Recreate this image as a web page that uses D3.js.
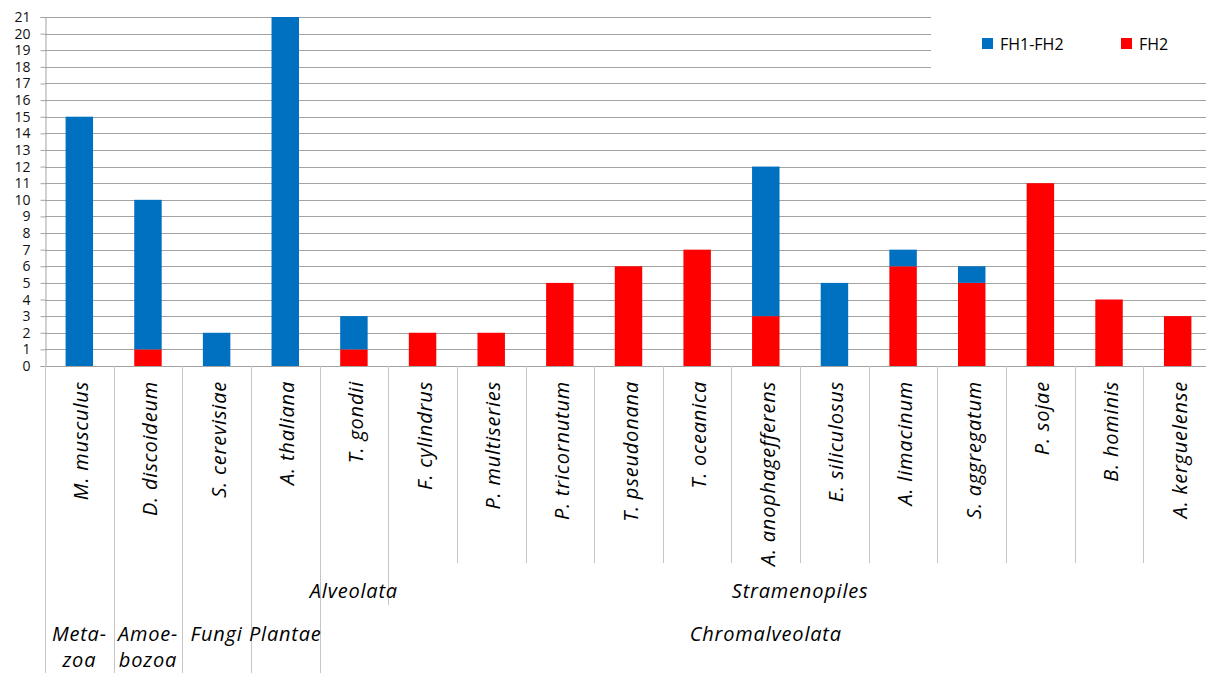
<!DOCTYPE html>
<html>
<head>
<meta charset="utf-8">
<script src="https://cdn.jsdelivr.net/npm/d3@7"></script>
<style>
  html, body { margin: 0; padding: 0; background: #fff; }
  svg { display: block; }
</style>
</head>
<body>
<svg id="chart" width="1206" height="673"></svg>
<script>
// Species shown on the category axis
const categories = [
  "M. musculus", "D. discoideum", "S. cerevisiae", "A. thaliana", "T. gondii",
  "F. cylindrus", "P. multiseries", "P. tricornutum", "T. pseudonana", "T. oceanica",
  "A. anophagefferens", "E. siliculosus", "A. limacinum", "S. aggregatum", "P. sojae",
  "B. hominis", "A. kerguelense"
];
// Counts per species (stacked: FH2 at the bottom, FH1-FH2 on top)
const fh2     = [0, 1, 0, 0, 1, 2, 2, 5, 6, 7, 3, 0, 6, 5, 11, 4, 3];
const fh1fh2  = [15, 9, 2, 21, 2, 0, 0, 0, 0, 0, 9, 5, 1, 1, 0, 0, 0];
const seriesNames = ["FH2", "FH1-FH2"];
const yTicks = d3.range(0, 22);

// Taxonomic groupings (index ranges into categories)
const level2Groups = [
  { lines: ["Alveolata"], start: 4, end: 4 },
  { lines: ["Stramenopiles"], start: 5, end: 16 }
];
const level3Groups = [
  { lines: ["Meta-", "zoa"], start: 0, end: 0 },
  { lines: ["Amoe-", "bozoa"], start: 1, end: 1 },
  { lines: ["Fungi"], start: 2, end: 2 },
  { lines: ["Plantae"], start: 3, end: 3 },
  { lines: ["Chromalveolata"], start: 4, end: 16 }
];

const colors = { "FH2": "#FF0000", "FH1-FH2": "#0070C0" };
const gridColor = "#a3a3a3";
const sepColor = "#c6c6c6";
const fontFam = "'Open Sans', 'DejaVu Sans', sans-serif";
const labelSize = 20, labelSpacing = 0.8;

const svg = d3.select("#chart");

const plotLeft = 45, plotRight = 1212, plotTop = 17, plotBottom = 366;
const x = d3.scaleBand().domain(categories).range([plotLeft, plotRight]).padding(0);
const y = d3.scaleLinear().domain([0, 21]).range([plotBottom, plotTop]);
const barW = x.bandwidth() * 0.4;

// Horizontal gridlines
svg.append("g").selectAll("line").data(yTicks.filter(d => d > 0)).join("line")
  .attr("x1", plotLeft).attr("x2", plotRight)
  .attr("y1", d => Math.round(y(d)) + 0.5).attr("y2", d => Math.round(y(d)) + 0.5)
  .attr("stroke", gridColor).attr("stroke-width", 1);

// Stacked bars
const rows = categories.map((c, i) => ({ cat: c, "FH2": fh2[i], "FH1-FH2": fh1fh2[i] }));
const stacked = d3.stack().keys(seriesNames)(rows);
svg.append("g").selectAll("g").data(stacked).join("g")
  .attr("fill", d => colors[d.key])
  .selectAll("rect").data(d => d.filter(p => p[1] - p[0] > 0)).join("rect")
  .attr("x", d => x(d.data.cat) + (x.bandwidth() - barW) / 2)
  .attr("width", barW)
  .attr("y", d => y(d[1]))
  .attr("height", d => y(d[0]) - y(d[1]));

// Y axis
const yAxis = d3.axisLeft(y).tickValues(yTicks).tickSize(5).tickPadding(10).tickFormat(d3.format("d"));
const gy = svg.append("g").attr("transform", `translate(${plotLeft + 0.5},0)`).call(yAxis);
gy.select(".domain").attr("stroke", gridColor);
gy.selectAll(".tick line").attr("stroke", gridColor);
gy.selectAll(".tick text").attr("font-family", fontFam).attr("font-size", 14).attr("fill", "#111");

// Baseline of the category axis
svg.append("line").attr("x1", plotLeft).attr("x2", plotRight)
  .attr("y1", plotBottom + 0.5).attr("y2", plotBottom + 0.5)
  .attr("stroke", gridColor);

// Category separators: deeper where a group boundary falls
const level1Bottom = 563, level2Bottom = 605, level3Bottom = 673;
const boundaries = d3.range(0, categories.length + 1);
function sepDepth(i) {
  const l3 = level3Groups.some(g => g.start === i || g.end + 1 === i);
  if (l3) return level3Bottom;
  const l2 = level2Groups.some(g => g.start === i || g.end + 1 === i);
  if (l2) return level2Bottom;
  return level1Bottom;
}
const xAt = i => plotLeft + i * x.step();
svg.append("g").selectAll("line").data(boundaries).join("line")
  .attr("x1", i => Math.round(xAt(i)) + 0.5).attr("x2", i => Math.round(xAt(i)) + 0.5)
  .attr("y1", plotBottom).attr("y2", i => sepDepth(i))
  .attr("stroke", sepColor);

// Species labels, rotated
svg.append("g").selectAll("text").data(categories).join("text")
  .attr("transform", d => `translate(${x(d) + x.bandwidth() / 2 + 2},381) rotate(-90)`)
  .attr("text-anchor", "end")
  .attr("dy", "0.35em")
  .attr("font-family", fontFam).attr("font-style", "italic")
  .attr("font-size", labelSize).attr("letter-spacing", labelSpacing)
  .attr("fill", "#000")
  .text(d => d);

// Group labels
function drawGroups(groups, y0, lineH) {
  const g = svg.append("g");
  groups.forEach(gr => {
    const cx = (xAt(gr.start) + xAt(gr.end + 1)) / 2;
    const t = g.append("text")
      .attr("x", cx).attr("y", y0)
      .attr("text-anchor", "middle")
      .attr("font-family", fontFam).attr("font-style", "italic")
      .attr("font-size", labelSize).attr("letter-spacing", labelSpacing)
      .attr("fill", "#000");
    gr.lines.forEach((ln, k) => {
      t.append("tspan").attr("x", cx).attr("y", y0 + k * lineH).text(ln);
    });
  });
}
drawGroups(level2Groups, 598, 29);
drawGroups(level3Groups, 641, 26);

// Legend
const lg = svg.append("g");
lg.append("rect").attr("x", 931).attr("y", 0).attr("width", 290).attr("height", 74).attr("fill", "#fff");
const legendItems = [
  { key: "FH1-FH2", x: 982 },
  { key: "FH2", x: 1121 }
];
legendItems.forEach(it => {
  lg.append("rect").attr("x", it.x).attr("y", 38).attr("width", 11).attr("height", 11)
    .attr("fill", colors[it.key]);
  lg.append("text").attr("x", it.x + 18).attr("y", 49.5)
    .attr("font-family", fontFam).attr("font-size", 16).attr("fill", "#000")
    .text(it.key);
});
</script>
</body>
</html>
